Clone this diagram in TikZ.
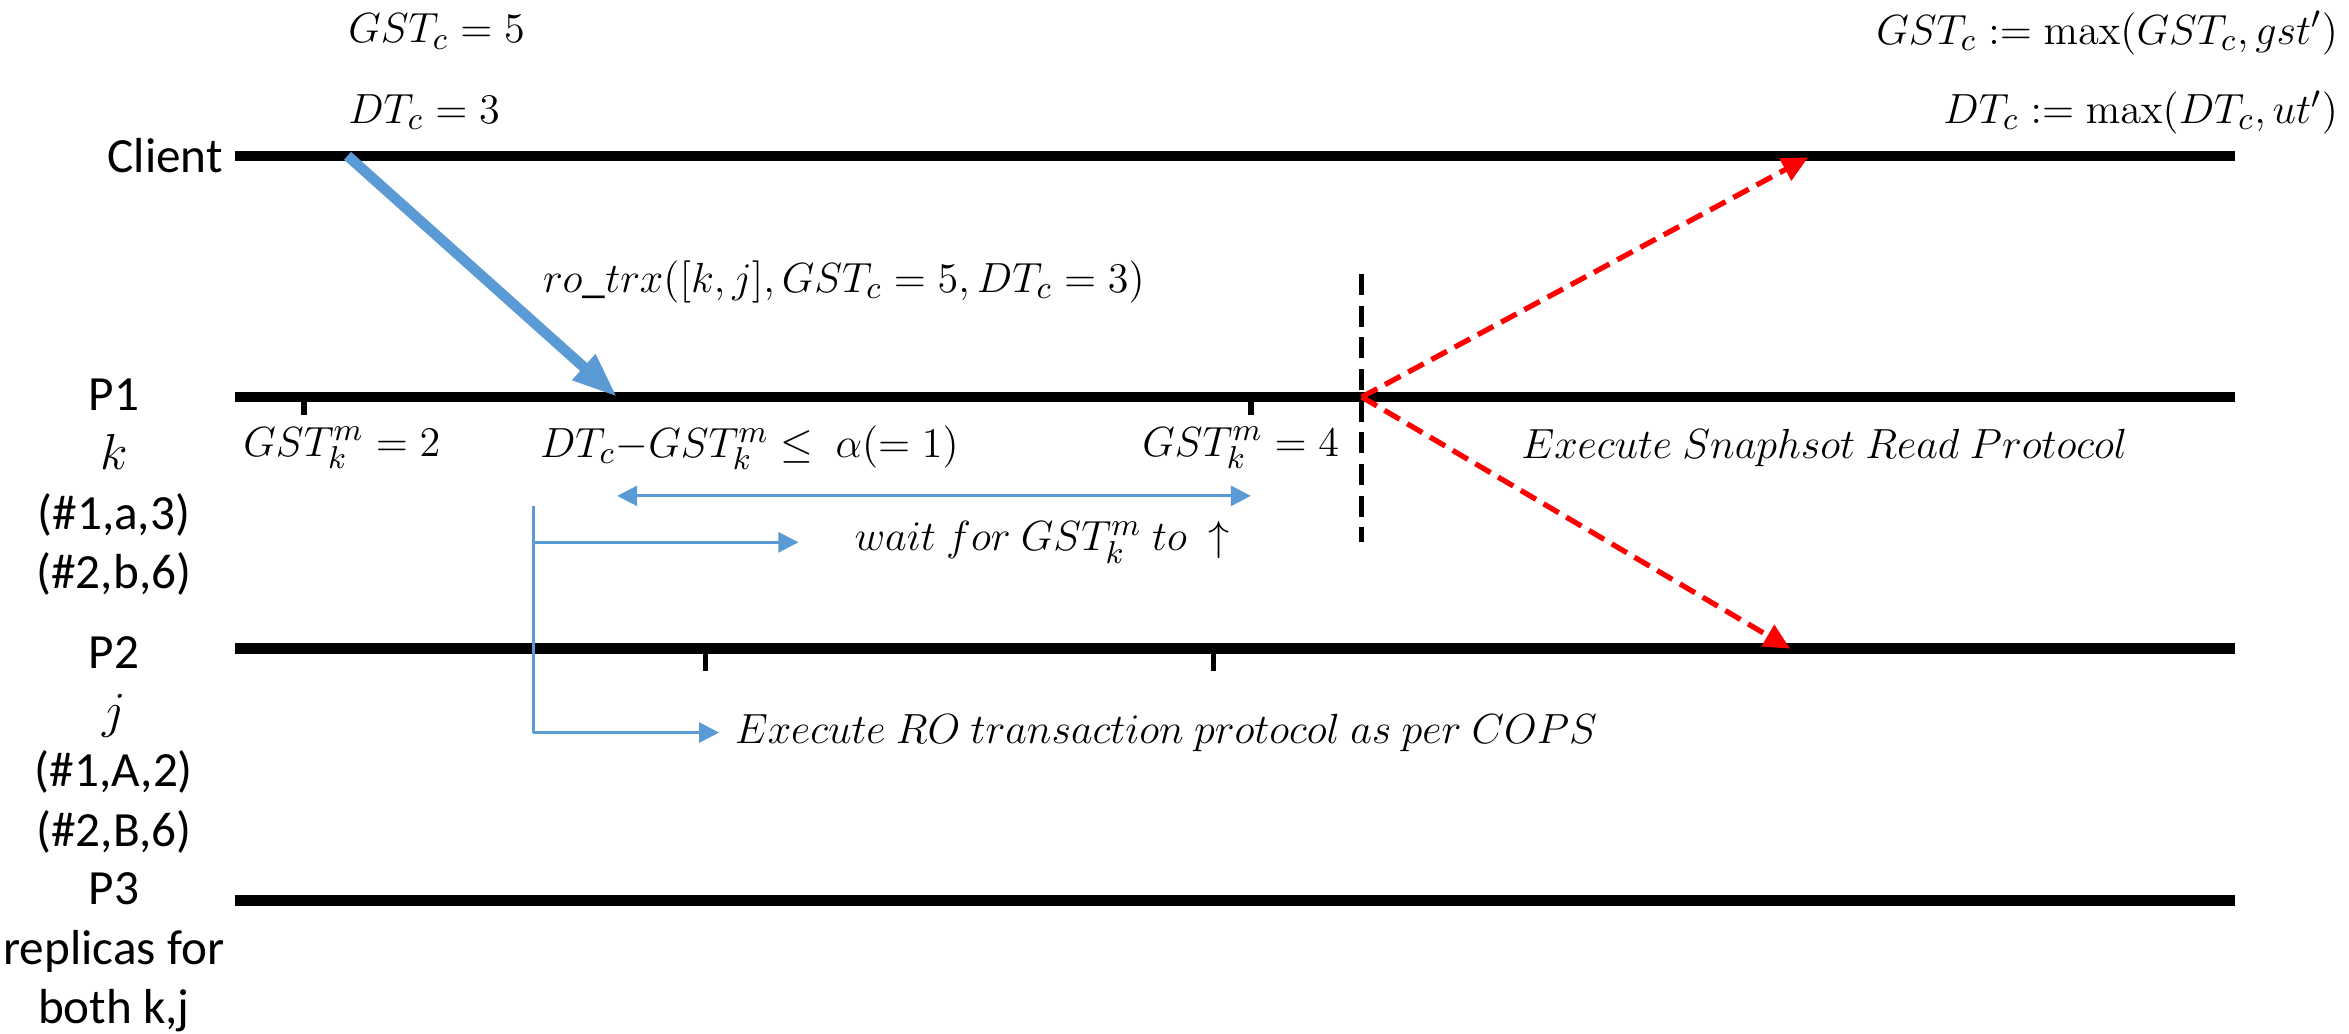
\documentclass[tikz,border=0pt]{standalone}
\usepackage[no-math]{fontspec}
\setmainfont{Carlito}
\usetikzlibrary{
	positioning,
	arrows.meta
}

\definecolor{msblue}{RGB}{91,155,213}

\begin{document}
\begin{tikzpicture}[
	x=0.01498cm, y=-0.01498cm,
	node distance = 1mm and 0mm,
	every node/.style = {font=\fontsize{14}{16}\selectfont},
	timeline/.style = {line width=3pt},
	tickmark/.style = {line width=1.6pt},
	proc/.style = {inner sep=0pt, text height=3.3mm, text depth=1.5mm},
	eqn/.style = {inner sep=0pt, anchor=west, font=\fontsize{13}{15}\selectfont},
	request/.style = {draw=msblue, line width=3pt, -{Triangle[length=4.5mm,width=3.2mm]}},
	reply/.style = {draw=red, line width=1.5pt, dash pattern=on 5pt off 2.5pt,
		-{Triangle[length=2.6mm,width=2.4mm]}},
	hint/.style = {draw=msblue, line width=0.8pt, -{Triangle[length=2mm,width=2mm]}}
]

	\useasboundingbox (0,0) rectangle (1568,690);

	% process lines
	\coordinate (c0) at (157,104);  \coordinate (c1) at (1492,104);
	\coordinate (p1s) at (157,265); \coordinate (p1e) at (1492,265);
	\coordinate (p2s) at (157,433); \coordinate (p2e) at (1492,433);
	\coordinate (p3s) at (157,601); \coordinate (p3e) at (1492,601);
	\foreach \a/\b in {c0/c1, p1s/p1e, p2s/p2e, p3s/p3e}
		\draw [timeline] (\a) -- (\b);

	% names of the processes
	\node (client) [left=0pt of c0] {Client};
	\node (p1) [proc] at (76,268) {P1};
		\node (p1k) [proc, below=of p1] {$k$};
		\node (p1a) [proc, below=of p1k] {(\#1,a,3)};
		\node (p1b) [proc, below=of p1a] {(\#2,b,6)};
	\node (p2) [proc] at (76,440) {P2};
		\node (p2j) [proc, below=of p2] {$j$};
		\node (p2a) [proc, below=of p2j] {(\#1,A,2)};
		\node (p2b) [proc, below=of p2a] {(\#2,B,6)};
	\node (p3) [proc] at (76,598) {P3};
		\node (p3r) [proc, below=of p3] {replicas for};
		\node (p3b) [proc, below=of p3r] {both k,j};

	% client state
	\node (gstc) [eqn] at (232,21) {$GST_c = 5$};
	\node (dtc) [eqn] at (232,75) {$DT_c = 3$};
	\node (gstnew) [eqn, anchor=east] at (1561,22) {$GST_c \mathrel{:=} \max(GST_c, gst')$};
	\node (dtnew) [eqn, anchor=east] at (1561,75) {$DT_c \mathrel{:=} \max(DT_c, ut')$};

	% request
	\coordinate (send) at (232,104);
	\coordinate (recv) at (412,265);
	\draw [request] (send) -- (recv);
	\node (rotrx) [eqn] at (362,188) {$ro\_trx([k,j], GST_c = 5, DT_c = 3)$};

	% ticks
	\coordinate (t1) at (203,265); \coordinate (t2) at (835,265);
	\coordinate (t3) at (471,433); \coordinate (t4) at (810,433);
	\foreach \t in {t1,t2}
		\draw [tickmark] (\t) -- ++(0,12);
	\foreach \t in {t3,t4}
		\draw [tickmark] (\t) -- ++(0,15);

	\node (gst2) [eqn] at (162,299) {$GST_k^m = 2$};
	\node (cond) [eqn] at (360,299) {$DT_c{-}GST_k^m \leq\ \alpha(=1)$};
	\node (gst4) [eqn] at (762,299) {$GST_k^m = 4$};

	% waiting
	\coordinate (w0) at (412,331); \coordinate (w1) at (835,331);
	\draw [hint, {Triangle[length=2mm,width=2mm]}-{Triangle[length=2mm,width=2mm]}] (w0) -- (w1);
	\coordinate (b0) at (356,338); \coordinate (b1) at (356,489);
	\coordinate (wa) at (356,362); \coordinate (wb) at (533,362);
	\coordinate (ra) at (480,489);
	\draw [draw=msblue, line width=0.8pt] (b0) -- (b1);
	\draw [hint] (wa) -- (wb);
	\draw [hint] (b1) -- (ra);
	\node (wait) [eqn] at (570,362) {$wait\ for\ GST_k^m\ to\ \uparrow$};
	\node (cops) [eqn, right=1.5mm of ra] {$Execute\ RO\ transaction\ protocol\ as\ per\ COPS$};

	% snapshot read
	\coordinate (d0) at (909,183); \coordinate (d1) at (909,362);
	\coordinate (snap) at (909,265);
	\draw [line width=1.3pt, dash pattern=on 6pt off 3pt] (d0) -- (d1);
	\coordinate (back) at (1207,105);
	\coordinate (fwd) at (1195,433);
	\draw [reply] (snap) -- (back);
	\draw [reply] (snap) -- (fwd);
	\node (snapread) [eqn] at (1015,299) {$Execute\ Snaphsot\ Read\ Protocol$};

\end{tikzpicture}
\end{document}
